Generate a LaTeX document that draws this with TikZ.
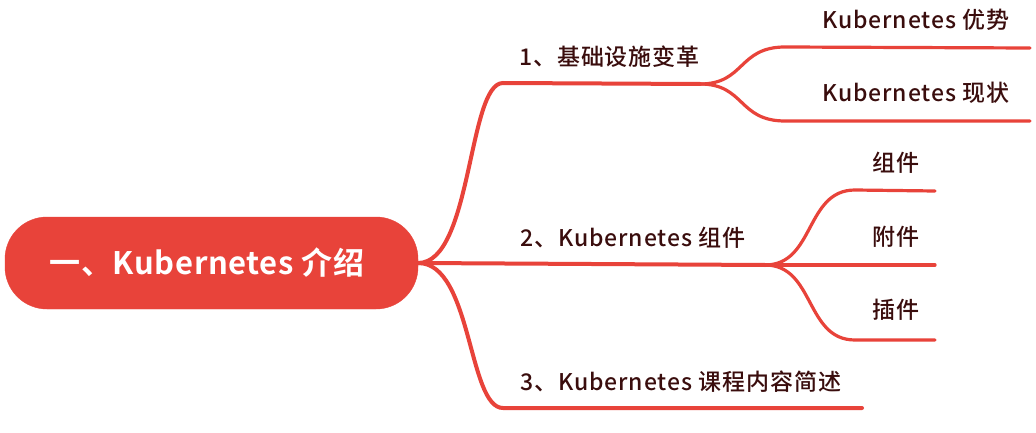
\documentclass[tikz,border=0pt]{standalone}
\usepackage{fontspec}
\setmainfont{Noto Sans CJK SC}[BoldFont={* Bold}]
\newfontfamily\cjkmed{Noto Sans CJK SC Medium}[LetterSpace=4]
\newfontfamily\cjkbold{Noto Sans CJK SC Bold}[LetterSpace=2]
\definecolor{branchred}{HTML}{E8433A}
\definecolor{txtbrown}{HTML}{3A0D0D}
\tikzset{
  branch/.style={draw=branchred, line width=4pt, line cap=round},
  subbranch/.style={draw=branchred, line width=3.2pt, line cap=round},
  lbl/.style={text=txtbrown, font=\cjkmed\fontsize{23}{26}\selectfont, inner sep=0pt, anchor=west},
  rootbox/.style={fill=branchred, draw=branchred, rounded corners=42pt, minimum width=413pt, minimum height=92pt, inner sep=0pt}
}
\begin{document}
\begin{tikzpicture}[x=1pt,y=-1pt]
\useasboundingbox (0,0) rectangle (1036,433);
\fill[white] (0,0) rectangle (1036,433);
% root
\node[rootbox] (root) at (211.5,263) {};
\node[text=white, font=\cjkbold\fontsize{31}{34}\selectfont, inner sep=0pt] (roottxt) at (207,263) {一、Kubernetes 介绍};
% coordinates
\coordinate (b1s) at (503,83);
\coordinate (b1e) at (700,84);
\coordinate (b2e) at (765,265);
\coordinate (b3s) at (503,408);
\coordinate (b3e) at (862,408);
\coordinate (s11) at (785,47);
\coordinate (s11e) at (1030,48);
\coordinate (s12) at (785,121);
\coordinate (s12e) at (1030,121);
\coordinate (s21) at (855,190);
\coordinate (s21e) at (935,191);
\coordinate (s22e) at (935,265);
\coordinate (s23) at (855,340);
\coordinate (s23e) at (935,340);
% main branches
\draw[branch] (root.east) .. controls (472,263) and (468,83) .. (b1s) -- (b1e);
\draw[branch] (root.east) -- (b2e);
\draw[branch] (root.east) .. controls (472,263) and (468,408) .. (b3s) -- (b3e);
% sub branches
\draw[subbranch] (b1e) .. controls (745,84) and (738,47) .. (s11) -- (s11e);
\draw[subbranch] (b1e) .. controls (745,84) and (738,121) .. (s12) -- (s12e);
\draw[subbranch] (b2e) .. controls (815,265) and (805,190) .. (s21) -- (s21e);
\draw[subbranch] (b2e) -- (s22e);
\draw[subbranch] (b2e) .. controls (815,265) and (805,340) .. (s23) -- (s23e);
% labels
\node[lbl] (t1) at (519,57) {1、基础设施变革};
\node[lbl] (t2) at (520,238) {2、Kubernetes 组件};
\node[lbl] (t3) at (520,382) {3、Kubernetes 课程内容简述};
\node[lbl] (t11) at (822,20) {Kubernetes 优势};
\node[lbl] (t12) at (822,93) {Kubernetes 现状};
\node[lbl] (t21) at (872,163) {组件};
\node[lbl] (t22) at (872,237) {附件};
\node[lbl] (t23) at (872,310) {插件};
\end{tikzpicture}
\end{document}
